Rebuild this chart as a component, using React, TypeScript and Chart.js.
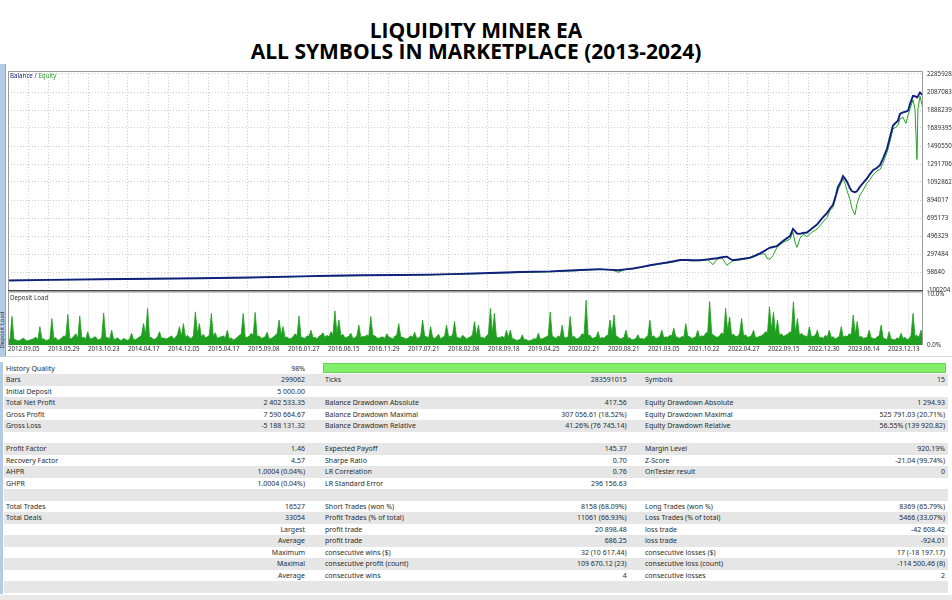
import React, { useEffect, useRef } from "react";
import { Chart, registerables } from "chart.js";

Chart.register(...registerables);

// ---------------- data ----------------
const TOTAL_TRADES = 16527;

const tradeNo = [
  0, 759, 1662, 2565, 3468, 4371, 5274, 5816, 6358, 7080, 7622, 8164, 8706, 9248, 9790, 10241, 10691,
  10819, 10928, 11018, 11144, 11289, 11451, 11596, 11740, 11903, 12029, 12137, 12264, 12372, 12499,
  12643, 12734, 12806, 12896, 12986, 13041, 13095, 13221, 13402, 13492, 13583, 13673, 13709, 13763, 13817,
  13889, 13998, 14124, 14178, 14215, 14251, 14305, 14359, 14431, 14521, 14612, 14702, 14792, 14847, 14901,
  14955, 14991, 15046, 15082, 15118, 15154, 15208, 15244, 15298, 15334, 15389, 15443, 15515, 15569,
  15624, 15696, 15750, 15804, 15877, 15931, 15985, 16039, 16075, 16111, 16165, 16219, 16256, 16292,
  16346, 16382, 16418, 16436, 16472, 16508, 16527,
];

// thousands
const balanceK = [
  5, 12, 18, 24, 30, 38, 50, 58, 62, 66, 70, 78, 88, 98, 105, 118, 130,
  125, 122, 118, 128, 137, 155, 173, 188, 203, 218, 231, 232, 228, 228,
  238, 245, 250, 262, 268, 245, 228, 240, 258, 280, 305, 335, 350, 367, 375,
  385, 440, 495, 575, 550, 524, 520, 530, 535, 580, 622, 690, 750, 800, 841,
  950, 1040, 1100, 1158, 1130, 1096, 1024, 990, 980, 990, 1041, 1080, 1133, 1180,
  1224, 1250, 1279, 1352, 1462, 1589, 1717, 1750, 1771, 1845, 1862, 1870, 1881, 1954,
  2045, 2040, 2027, 2040, 2081, 2060, 2070,
];

const equityK = [
  5, 11.5, 17, 23, 29, 36, 47, 55, 58, 63, 66, 74, 84, 93, 100, 112, 126,
  125, 118, 95, 125, 134, 150, 170, 182, 198, 212, 226, 225, 222, 224,
  232, 180, 240, 255, 173, 200, 222, 232, 250, 270, 295, 300, 250, 239, 280,
  372, 425, 460, 540, 430, 370, 470, 515, 490, 540, 570, 640, 700, 780, 810,
  930, 1000, 1080, 1130, 1080, 1000, 900, 800, 731, 850, 950, 1000, 1080, 1120,
  1170, 1215, 1230, 1300, 1420, 1540, 1680, 1700, 1720, 1790, 1810, 1740, 1830, 1900,
  2000, 1900, 1341, 1900, 2040, 1950, 1880,
];

const equityTicks = [
  2285928, 2087083, 1888239, 1689395, 1490550, 1291706, 1092862, 894017, 695173, 496329, 297484, 98640, -100204,
];

const dateLabels = [
  "2012.09.05", "2013.05.29", "2013.10.23", "2014.04.17", "2014.12.05", "2015.04.17", "2015.09.08",
  "2016.01.27", "2016.06.15", "2016.11.29", "2017.07.21", "2018.02.08", "2018.09.18", "2019.04.25",
  "2020.02.21", "2020.08.21", "2021.03.05", "2021.10.22", "2022.04.27", "2022.09.15", "2022.12.30",
  "2023.06.14", "2023.12.13",
];

// percent, ~2px per sample
const depositLoad = [
  1.2, 1.0, 5.6, 1.1, 1.0, 0.8, 0.9, 1.2, 1.3, 0.9, 0.8, 1.0, 1.1, 1.3, 1.5, 1.1, 3.6, 1.2, 1.2, 0.9,
  1.0, 1.2, 5.2, 1.3, 1.4, 0.9, 1.1, 1.4, 1.8, 1.6, 6.0, 1.2, 1.3, 1.7, 2.2, 1.3, 5.7, 1.4, 1.5, 1.2,
  2.6, 1.3, 1.2, 1.5, 1.6, 1.0, 1.1, 1.4, 6.3, 1.6, 1.4, 1.2, 2.9, 1.1, 1.2, 1.4, 1.0, 0.9, 1.3, 1.1,
  0.9, 1.2, 2.3, 1.0, 1.1, 1.3, 1.6, 1.9, 4.2, 2.0, 7.2, 1.4, 1.5, 1.1, 1.2, 1.6, 2.6, 1.3, 1.4, 1.2,
  1.3, 1.5, 1.8, 1.2, 1.5, 2.0, 3.6, 1.7, 4.2, 1.5, 1.9, 1.4, 1.3, 1.8, 6.5, 2.2, 4.2, 1.6, 2.1, 1.4,
  1.6, 1.9, 6.2, 1.7, 2.4, 1.3, 1.5, 1.6, 1.8, 1.4, 2.9, 1.2, 1.4, 1.0, 1.2, 1.5, 1.9, 2.1, 6.2, 1.5,
  1.5, 1.7, 2.3, 1.9, 6.4, 1.6, 1.8, 1.3, 1.4, 1.6, 2.5, 1.2, 1.3, 1.5, 1.9, 2.2, 4.9, 2.0, 3.6, 1.4,
  1.6, 1.2, 1.3, 1.6, 2.2, 1.8, 5.7, 1.5, 1.4, 1.3, 1.8, 1.7, 2.9, 1.4, 1.5, 1.2, 1.7, 1.9, 2.4, 1.5,
  1.9, 1.6, 2.6, 2.0, 6.7, 2.4, 4.9, 1.8, 2.1, 1.4, 1.5, 1.7, 2.3, 1.3, 1.4, 1.8, 3.9, 1.5, 1.7, 1.6,
  2.0, 1.7, 5.6, 1.9, 1.8, 1.4, 1.3, 1.5, 1.6, 1.3, 2.2, 1.6, 1.4, 1.2, 1.7, 1.9, 4.2, 1.6, 1.5, 1.3,
  1.2, 1.4, 1.8, 1.5, 2.5, 1.3, 1.4, 1.7, 4.9, 1.8, 1.6, 1.4, 3.6, 1.5, 1.3, 1.6, 2.1, 1.2, 1.5, 1.7,
  3.9, 1.6, 1.7, 1.9, 4.6, 1.5, 1.4, 1.3, 1.9, 1.6, 1.2, 1.4, 1.6, 2.0, 4.6, 1.8, 3.9, 1.4, 1.5, 1.3,
  1.8, 2.1, 7.2, 2.3, 6.2, 1.6, 1.4, 1.5, 1.7, 1.3, 2.9, 1.5, 2.9, 1.2, 1.2, 0.9, 1.0, 1.1, 2.0, 1.0,
  1.1, 0.8, 0.9, 1.0, 1.3, 1.1, 2.3, 1.2, 1.2, 1.4, 1.6, 1.8, 6.5, 1.7, 1.5, 1.3, 1.8, 1.5, 3.9, 1.4,
  1.4, 1.6, 5.6, 1.5, 1.7, 1.2, 1.3, 1.6, 2.2, 2.0, 8.8, 1.8, 1.9, 1.3, 1.4, 1.5, 2.6, 1.2, 1.5, 1.3,
  1.8, 1.9, 4.9, 2.2, 5.9, 1.7, 1.6, 1.2, 1.3, 1.5, 2.9, 1.3, 1.4, 1.0, 1.1, 1.3, 2.0, 1.2, 1.3, 1.1,
  1.5, 1.8, 4.9, 1.6, 1.8, 1.3, 1.4, 1.7, 2.9, 1.4, 1.6, 1.5, 1.9, 1.8, 3.3, 1.6, 1.5, 1.3, 1.7, 1.5,
  4.2, 1.7, 1.6, 1.3, 1.4, 1.6, 2.9, 1.5, 1.8, 1.7, 2.3, 2.5, 8.5, 2.2, 1.9, 1.6, 1.5, 1.8, 2.4, 2.0,
  7.2, 2.8, 5.5, 1.9, 2.1, 1.6, 1.7, 2.2, 5.2, 1.8, 2.0, 1.5, 1.6, 1.9, 2.9, 1.4, 1.5, 1.7, 1.8, 2.1,
  2.6, 2.4, 7.5, 3.0, 6.5, 2.2, 4.9, 1.9, 2.2, 1.7, 1.9, 2.1, 2.5, 2.6, 8.5, 2.5, 5.2, 1.9, 2.3, 1.8,
  1.8, 1.5, 3.6, 1.6, 1.7, 1.9, 2.9, 1.4, 1.5, 1.3, 1.9, 1.6, 2.9, 1.5, 1.6, 1.2, 1.4, 1.7, 3.6, 1.5,
  1.8, 1.6, 2.2, 2.0, 5.9, 2.1, 4.6, 1.5, 1.7, 1.3, 1.4, 1.5, 2.9, 1.4, 1.3, 1.2, 1.6, 1.8, 3.9, 1.4,
  1.2, 1.1, 2.6, 1.2, 1.1, 1.0, 1.4, 1.2, 2.3, 1.3, 1.5, 1.1, 1.2, 1.9, 6.2, 1.7, 1.9, 1.5, 2.9, 1.3,
];
const depositTicks = [0, 10];
const depositTickLabels = ["0.0%", "10.0%"];

const colA = [
  "History Quality", "Bars", "Initial Deposit", "Total Net Profit", "Gross Profit", "Gross Loss", "",
  "Profit Factor", "Recovery Factor", "AHPR", "GHPR", "", "Total Trades", "Total Deals", "", "", "", "", "", "",
];
const colB = [
  "98%", "299062", "5 000.00", "2 402 533.35", "7 590 664.67", "-5 188 131.32", "",
  "1.46", "4.57", "1.0004 (0.04%)", "1.0004 (0.04%)", "", "16527", "33054", "Largest", "Average",
  "Maximum", "Maximal", "Average", "",
];
const colC = [
  "", "Ticks", "", "Balance Drawdown Absolute", "Balance Drawdown Maximal", "Balance Drawdown Relative", "",
  "Expected Payoff", "Sharpe Ratio", "LR Correlation", "LR Standard Error", "", "Short Trades (won %)",
  "Profit Trades (% of total)", "profit trade", "profit trade", "consecutive wins ($)",
  "consecutive profit (count)", "consecutive wins", "",
];
const colD = [
  "", "283591015", "", "417.56", "307 056.61 (18.52%)", "41.26% (76 745.14)", "",
  "145.37", "0.70", "0.76", "296 156.63", "", "8158 (68.09%)", "11061 (66.93%)", "20 898.48", "686.25",
  "32 (10 617.44)", "109 670.12 (23)", "4", "",
];
const colE = [
  "", "Symbols", "", "Equity Drawdown Absolute", "Equity Drawdown Maximal", "Equity Drawdown Relative", "",
  "Margin Level", "Z-Score", "OnTester result", "", "", "Long Trades (won %)", "Loss Trades (% of total)",
  "loss trade", "loss trade", "consecutive losses ($)", "consecutive loss (count)", "consecutive losses", "",
];
const colF = [
  "", "15", "", "1 294.93", "525 791.03 (20.71%)", "56.55% (139 920.82)", "",
  "920.19%", "-21.04 (99.74%)", "0", "", "", "8369 (65.79%)", "5466 (33.07%)", "-42 608.42", "-924.01",
  "17 (-18 197.17)", "-114 500.46 (8)", "2", "",
];

// ---------------- layout constants ----------------
const GRID_DIVS = 45.75; // 915px plot width / 20px grid
const TICK_FONT = { family: "'Noto Sans'", size: 6.2 };
const TICK_COLOR = "#2a2a2a";
const GRID_COLOR = "#cccccc";

const framePlugin = (sepColor: string | null) => ({
  id: "frame",
  afterDraw(chart: any) {
    const { ctx, chartArea } = chart;
    const { left, top, right, bottom } = chartArea;
    ctx.save();
    ctx.strokeStyle = "#9a9a9a";
    ctx.lineWidth = 1;
    ctx.beginPath();
    ctx.moveTo(left + 0.5, bottom);
    ctx.lineTo(left + 0.5, top + 0.5);
    ctx.lineTo(right - 0.5, top + 0.5);
    ctx.lineTo(right - 0.5, bottom);
    ctx.stroke();
    if (sepColor) {
      ctx.strokeStyle = sepColor;
      ctx.lineWidth = 1.6;
      ctx.beginPath();
      ctx.moveTo(left, bottom - 0.3);
      ctx.lineTo(right, bottom - 0.3);
      ctx.stroke();
    }
    ctx.restore();
  },
});

function gridTicks(step: number) {
  const t = [];
  for (let k = 0; k <= Math.floor(GRID_DIVS); k++) t.push({ value: k * step });
  return t;
}

function EquityChart() {
  const ref = useRef<HTMLCanvasElement>(null);
  useEffect(() => {
    if (!ref.current) return;
    const stepPx = (equityTicks[0] - equityTicks[equityTicks.length - 1]) / 216;
    const chart = new Chart(ref.current, {
      type: "line",
      data: {
        datasets: [
          {
            label: "Balance",
            data: tradeNo.map((x, i) => ({ x, y: balanceK[i] * 1000 })),
            borderColor: "#10207e",
            borderWidth: 1.9,
            pointRadius: 0,
            tension: 0,
          },
          {
            label: "Equity",
            data: tradeNo.map((x, i) => ({ x, y: equityK[i] * 1000 })),
            borderColor: "#23a323",
            borderWidth: 1,
            pointRadius: 0,
            tension: 0,
          },
        ],
      },
      options: {
        animation: false,
        responsive: false,
        devicePixelRatio: 1,
        parsing: false as any,
        layout: { padding: { left: 8, top: 9, right: 0, bottom: 3 } },
        plugins: { legend: { display: false }, tooltip: { enabled: false } },
        scales: {
          x: {
            type: "linear",
            min: 0,
            max: TOTAL_TRADES,
            offset: false,
            afterBuildTicks: (s: any) => {
              s.ticks = gridTicks(TOTAL_TRADES / GRID_DIVS);
            },
            afterFit: (s: any) => {
              s.height = 0;
              s.paddingLeft = 0;
              s.paddingRight = 0;
            },
            ticks: { display: false },
            grid: { color: GRID_COLOR, lineWidth: 1, drawTicks: false, offset: false },
            border: { display: false, dash: [1, 2] },
          },
          y: {
            position: "right",
            min: equityTicks[equityTicks.length - 1] - stepPx * 1,
            max: equityTicks[0] + stepPx * 3,
            afterBuildTicks: (s: any) => {
              s.ticks = equityTicks.map((v) => ({ value: v }));
            },
            afterFit: (s: any) => {
              s.width = 29;
              s.paddingTop = 0;
              s.paddingBottom = 0;
            },
            ticks: {
              padding: 4,
              font: TICK_FONT,
              color: TICK_COLOR,
              callback: (v: any) => String(v),
            },
            grid: { color: GRID_COLOR, lineWidth: 1, drawTicks: false },
            border: { display: false, dash: [1, 2] },
          },
        },
      },
      plugins: [framePlugin("#4a4a4a")],
    });
    return () => chart.destroy();
  }, []);
  return (
    <canvas
      ref={ref}
      width={952}
      height={232}
      style={{ position: "absolute", left: 0, top: 62, width: 952, height: 232 }}
    />
  );
}

function DepositChart() {
  const ref = useRef<HTMLCanvasElement>(null);
  useEffect(() => {
    if (!ref.current) return;
    const chart = new Chart(ref.current, {
      type: "line",
      data: {
        labels: depositLoad.map((_, i) => String(i)),
        datasets: [
          {
            label: "Deposit Load",
            data: depositLoad,
            borderColor: "#1f9f1f",
            backgroundColor: "#1f9f1f",
            borderWidth: 0.8,
            pointRadius: 0,
            tension: 0,
            fill: "origin",
            xAxisID: "x",
            yAxisID: "y",
          },
        ],
      },
      options: {
        animation: false,
        responsive: false,
        devicePixelRatio: 1,
        layout: { padding: { left: 8, top: 5.5, right: 0, bottom: 3 } },
        plugins: { legend: { display: false }, tooltip: { enabled: false } },
        scales: {
          x: { type: "category", display: false, offset: false, grid: { display: false } },
          g: {
            type: "linear",
            position: "bottom",
            min: 0,
            max: GRID_DIVS,
            offset: false,
            afterBuildTicks: (s: any) => {
              s.ticks = gridTicks(1);
            },
            afterFit: (s: any) => {
              s.height = 12;
              s.paddingLeft = 0;
              s.paddingRight = 0;
            },
            ticks: {
              autoSkip: false,
              maxRotation: 0,
              minRotation: 0,
              align: "start",
              padding: 1,
              font: TICK_FONT,
              color: TICK_COLOR,
              callback: (_v: any, i: number) => (i % 2 === 0 ? dateLabels[i / 2] ?? "" : ""),
            },
            grid: { color: GRID_COLOR, lineWidth: 1, drawTicks: false, offset: false },
            border: { display: false, dash: [1, 2] },
          },
          y: {
            position: "right",
            min: 0,
            max: 10.5,
            afterBuildTicks: (s: any) => {
              s.ticks = depositTicks.map((v) => ({ value: v }));
            },
            afterFit: (s: any) => {
              s.width = 29;
              s.paddingTop = 0;
              s.paddingBottom = 0;
            },
            ticks: {
              padding: 4,
              font: TICK_FONT,
              color: TICK_COLOR,
              callback: (_v: any, i: number) => depositTickLabels[i],
            },
            grid: { display: false, drawTicks: false },
            border: { display: false },
          },
        },
      },
      plugins: [framePlugin(null)],
    });
    return () => chart.destroy();
  }, []);
  return (
    <canvas
      ref={ref}
      width={952}
      height={74}
      style={{ position: "absolute", left: 0, top: 286, width: 952, height: 74 }}
    />
  );
}

function StatsTable() {
  const ROW_TOP = 362.5;
  const ROW_H = 11.5;
  const text: React.CSSProperties = {
    position: "absolute",
    top: 0,
    lineHeight: ROW_H + "px",
    whiteSpace: "nowrap",
    fontFamily: "'Noto Sans', sans-serif",
    fontSize: 7,
    color: "#2b2b2b",
  };
  return (
    <>
      {colA.map((_, i) => (
        <div
          key={i}
          style={{
            position: "absolute",
            left: 4,
            top: ROW_TOP + i * ROW_H,
            width: 944,
            height: ROW_H,
            background: i % 2 ? "#e6e6e6" : "#ffffff",
          }}
        >
          {i === 0 && (
            <div
              style={{
                position: "absolute",
                left: 319,
                top: 0.8,
                width: 623,
                height: 9.4,
                background: "#82ef6c",
                boxSizing: "border-box",
                border: "1px solid #6cd45a",
              }}
            />
          )}
          <span style={{ ...text, left: 2 }}>{colA[i]}</span>
          <span style={{ ...text, left: 0, width: 301, textAlign: "right" }}>{colB[i]}</span>
          <span style={{ ...text, left: 321 }}>{colC[i]}</span>
          <span style={{ ...text, left: 0, width: 622.7, textAlign: "right" }}>{colD[i]}</span>
          <span style={{ ...text, left: 641 }}>{colE[i]}</span>
          <span style={{ ...text, left: 0, width: 941, textAlign: "right" }}>{colF[i]}</span>
        </div>
      ))}
    </>
  );
}

export default function App() {
  const small: React.CSSProperties = {
    position: "absolute",
    fontFamily: "'Noto Sans', sans-serif",
    fontSize: 6.2,
    lineHeight: "8px",
    whiteSpace: "nowrap",
  };
  const title: React.CSSProperties = {
    position: "absolute",
    left: 0,
    width: 952,
    textAlign: "center",
    fontFamily: "'Open Sans', sans-serif",
    fontWeight: 700,
    fontSize: 21,
    lineHeight: "21px",
    color: "#000",
    whiteSpace: "nowrap",
  };
  return (
    <div
      style={{
        position: "absolute",
        left: 0,
        top: 0,
        width: 952,
        height: 600,
        background: "#fff",
        overflow: "hidden",
      }}
    >
      <div style={{ ...title, top: 19.6 }}>LIQUIDITY MINER EA</div>
      <div style={{ ...title, top: 41.3 }}>ALL SYMBOLS IN MARKETPLACE (2013-2024)</div>

      {/* left side strip */}
      <div
        style={{
          position: "absolute",
          left: 0,
          top: 64,
          width: 5,
          height: 293,
          background: "#b4cbe6",
          borderRight: "1px solid #8aa6c8",
        }}
      />
      <div
        style={{
          ...small,
          left: -17,
          top: 326,
          color: "#333",
          transform: "rotate(-90deg)",
          fontSize: 6,
        }}
      >
        Deposit Load
      </div>
      <div
        style={{
          position: "absolute",
          left: 0,
          top: 362,
          width: 3,
          height: 232,
          background: "#b4cbe6",
        }}
      />

      <EquityChart />
      <DepositChart />

      <div style={{ ...small, left: 10, top: 72 }}>
        <span style={{ color: "#1a2380" }}>Balance</span>
        <span style={{ color: "#333" }}> / </span>
        <span style={{ color: "#2ca02c" }}>Equity</span>
      </div>
      <div style={{ ...small, left: 10, top: 294, color: "#333" }}>Deposit Load</div>

      <div
        style={{ position: "absolute", left: 5, top: 356, width: 947, height: 1, background: "#d6d6d6" }}
      />

      <StatsTable />

      <div
        style={{ position: "absolute", left: 0, top: 595, width: 952, height: 5, background: "#e9e9e9" }}
      />
    </div>
  );
}
